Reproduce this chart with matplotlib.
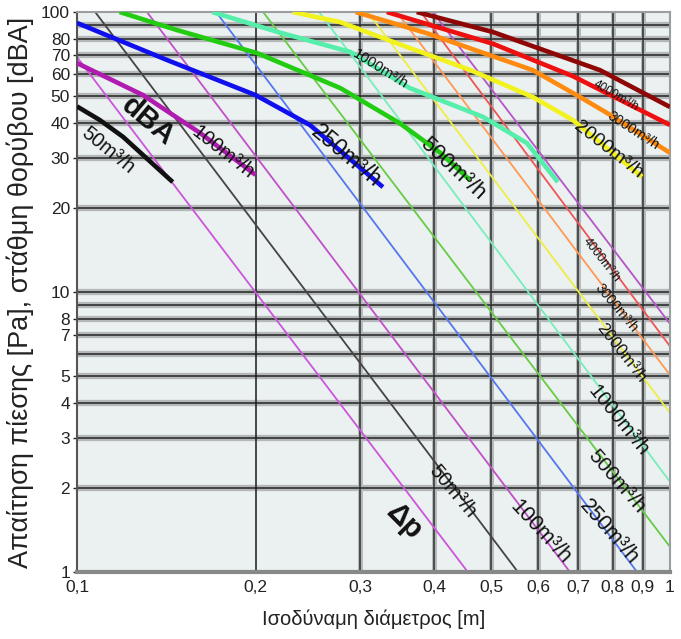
import numpy as np
import matplotlib
matplotlib.use("Agg")
import matplotlib.pyplot as plt

plt.rcParams['font.family'] = ['Liberation Sans', 'DejaVu Sans']

# pressure drop lines (straight in log-log), two end points each
dp_flows = [25, 50, 100, 250, 500, 1000, 2000, 3000, 4000, 5000]
dp_d0 = [0.100, 0.1073, 0.1312, 0.1716, 0.206, 0.256, 0.309, 0.346, 0.38, 0.398]
dp_p0 = [69, 100, 100, 100, 100, 100, 100, 100, 100, 100]
dp_d1 = [0.456, 0.554, 0.678, 0.880, 1.0, 1.0, 1.0, 1.0, 1.0, 1.0]
dp_p1 = [1, 1, 1, 1, 1.23, 2.1, 3.7, 5.05, 6.4, 7.7]
dp_colors = ['#cc55dd', '#444444', '#c050c8', '#5577ee', '#66cc44', '#77eebb',
             '#eeee44', '#ff9955', '#ee5555', '#b455c8']

# noise level curves (dBA)
dba_50_d = [0.100, 0.1093, 0.1196, 0.145]
dba_50_v = [46, 41.1, 35.8, 24.7]
dba_100_d = [0.100, 0.1292, 0.1612, 0.200]
dba_100_v = [65.7, 50.5, 37, 26.2]
dba_250_d = [0.100, 0.1418, 0.200, 0.247, 0.328]
dba_250_v = [91.4, 67.4, 50.5, 39.5, 23.7]
dba_500_d = [0.118, 0.1474, 0.201, 0.278, 0.350, 0.410, 0.460]
dba_500_v = [100, 86.2, 71.4, 53.5, 40.1, 31.4, 25.1]
dba_1000_d = [0.169, 0.2174, 0.289, 0.364, 0.484, 0.574, 0.647]
dba_1000_v = [100, 85, 72, 53.5, 42.2, 34.0, 24.7]
dba_2000_d = [0.231, 0.278, 0.360, 0.460, 0.587, 0.686, 0.897]
dba_2000_v = [100, 92, 75, 62.1, 49.7, 41.1, 25.8]
dba_3000_d = [0.295, 0.389, 0.587, 0.705, 0.783, 1.0]
dba_3000_v = [100, 84, 62, 49.7, 43.6, 31.4]
dba_4000_d = [0.333, 0.503, 0.686, 1.0]
dba_4000_v = [100, 77, 59, 39.5]
dba_5000_d = [0.374, 0.503, 0.762, 1.0]
dba_5000_v = [100, 84.8, 62, 45.8]

xticks = [0.1, 0.2, 0.3, 0.4, 0.5, 0.6, 0.7, 0.8, 0.9, 1.0]
xticklabels = ['0,1', '0,2', '0,3', '0,4', '0,5', '0,6', '0,7', '0,8', '0,9', '1']
yticks = [1, 2, 3, 4, 5, 7, 8, 10, 20, 30, 40, 50, 60, 70, 80, 100]
hgrid = [2, 3, 4, 5, 6, 7, 8, 9, 10, 20, 30, 40, 50, 60, 70, 80, 90]
vgrid = [0.3, 0.4, 0.5, 0.6, 0.7, 0.8, 0.9]

fig = plt.figure(figsize=(6.81, 6.39), dpi=100)
ax = fig.add_axes([0.1131, 0.1049, 0.8707, 0.8763])
ax.set_facecolor('#ebf0f0')
ax.set_xscale('log')
ax.set_yscale('log')
ax.set_xlim(0.1, 1)
ax.set_ylim(1, 100)

for v in hgrid:
    ax.axhline(v, color='#b4b8b8', lw=4.5, zorder=1)
    ax.axhline(v, color='#2e2e2e', lw=1.2, zorder=1.1)
for v in vgrid:
    ax.axvline(v, color='#b4b8b8', lw=3.5, zorder=1)
    ax.axvline(v, color='#2e2e2e', lw=1.1, zorder=1.1)
ax.axvline(0.2, color='#1a1a1a', lw=1.1, zorder=1.1)

for i in range(len(dp_flows)):
    ax.plot([dp_d0[i], dp_d1[i]], [dp_p0[i], dp_p1[i]], color=dp_colors[i], lw=1.3,
            zorder=2, solid_capstyle='butt')

thick = [
    (dba_50_d, dba_50_v, '#111111'),
    (dba_100_d, dba_100_v, '#b01cb0'),
    (dba_250_d, dba_250_v, '#1010ee'),
    (dba_500_d, dba_500_v, '#22cc11'),
    (dba_1000_d, dba_1000_v, '#55eeaa'),
    (dba_2000_d, dba_2000_v, '#f2f21e'),
    (dba_3000_d, dba_3000_v, '#ff8a10'),
    (dba_4000_d, dba_4000_v, '#ee1010'),
    (dba_5000_d, dba_5000_v, '#8e0606'),
]
for d, v, c in thick:
    ax.plot(d, v, color=c, lw=3.3, zorder=3, solid_capstyle='butt',
            solid_joinstyle='round')


def lab(px, py, s, rot, size, weight='normal'):
    fig.text(px / 681, 1 - py / 639, s, rotation=rot, fontsize=size, fontweight=weight,
             ha='center', va='center', rotation_mode='anchor', zorder=5, color='#111111')


# dBA labels
lab(108, 150, '50m³/h', -39, 14.5)
lab(148, 121, 'dBA', -40, 21, 'bold')
lab(223, 152, '100m³/h', -38, 14.5)
lab(346, 156, '250m³/h', -40, 16.5)
lab(453, 169, '500m³/h', -43, 16)
lab(380, 69, '1000m³/h', -32, 10.5)
lab(608, 150, '2000m³/h', -38, 14)
lab(633, 131, '3000m³/h', -33, 10)
lab(616, 96, '4000m³/h', -30, 8.5)

# pressure drop labels
lab(404, 522, 'Δp', -45, 21, 'bold')
lab(453, 491, '50m³/h', -50, 14.5)
lab(540, 532, '100m³/h', -47, 15.5)
lab(609, 532, '250m³/h', -49, 15.5)
lab(617, 481, '500m³/h', -49, 15)
lab(618, 420, '1000m³/h', -51, 14.5)
lab(621, 353, '2000m³/h', -52, 12)
lab(616, 308, '3000m³/h', -50, 10)
lab(601, 260, '4000m³/h', -52, 9)

ax.xaxis.set_major_locator(matplotlib.ticker.FixedLocator(xticks))
ax.xaxis.set_minor_locator(matplotlib.ticker.NullLocator())
ax.set_xticklabels(xticklabels, family=['Liberation Sans Narrow', 'Liberation Sans'])
ax.yaxis.set_major_locator(matplotlib.ticker.FixedLocator(yticks))
ax.yaxis.set_minor_locator(matplotlib.ticker.NullLocator())
ax.set_yticklabels([str(v) for v in yticks], family=['Liberation Sans Narrow', 'Liberation Sans'])
ax.tick_params(axis='both', labelsize=12.5, colors='#222222', length=3, width=1)
ax.tick_params(axis='x', length=0, pad=6)
ax.tick_params(axis='y', pad=2)

for s in ['top', 'right']:
    ax.spines[s].set_color('#9a9e9e')
    ax.spines[s].set_linewidth(1.5)
ax.spines['left'].set_color('#555555')
ax.spines['left'].set_linewidth(1.5)
ax.spines['bottom'].set_color('#888888')
ax.spines['bottom'].set_linewidth(3)

ax.set_xlabel('Ισοδύναμη διάμετρος [m]', fontsize=14.5, color='#222222', labelpad=10)
ax.set_ylabel('Απαίτηση πίεσης [Pa], στάθμη θορύβου [dBA]', fontsize=19.5,
              color='#222222', labelpad=5)

fig.savefig('out.png', dpi=100)
